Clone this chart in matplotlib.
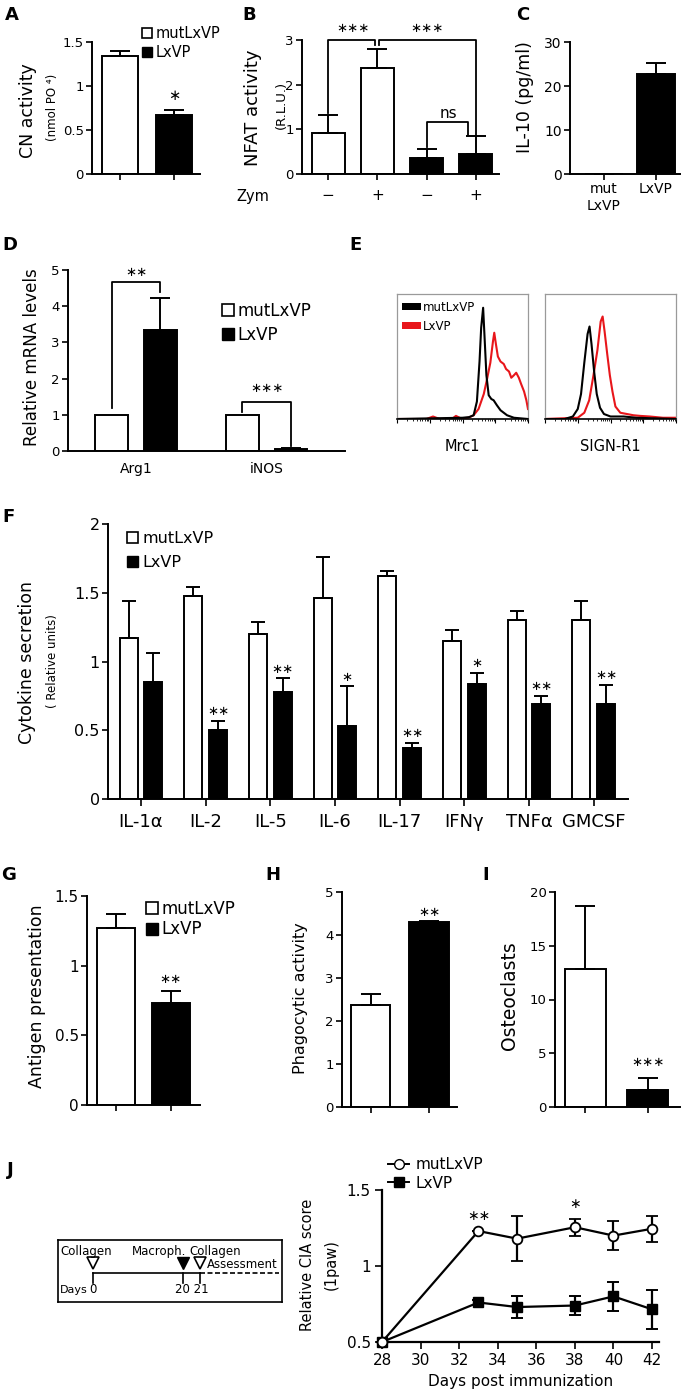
import numpy as np
import matplotlib
matplotlib.use('Agg')
import matplotlib.pyplot as plt
from matplotlib.patches import Patch
from matplotlib.lines import Line2D

plt.rcParams['font.family'] = ['DejaVu Sans']

# ---- data ----
groups = ['mutLxVP', 'LxVP']

a_mean = [1.34, 0.67]
a_sem = [0.06, 0.06]

b_zym = ['\u2212', '+', '\u2212', '+']
b_mean = [0.92, 2.37, 0.35, 0.45]
b_sem = [0.40, 0.43, 0.20, 0.41]
b_colors = ['white', 'white', 'black', 'black']

c_mean = [0.1, 22.8]
c_sem = [0.0, 2.4]

d_genes = ['Arg1', 'iNOS']
d_mut = [1.0, 1.0]
d_lx = [3.35, 0.06]
d_lx_sem = [0.87, 0.02]

# flow histograms: x in log decades, y relative to panel height
e_mrc1_mut_x = [0, 1.0, 2.0, 2.2, 2.34, 2.44, 2.52, 2.57, 2.63, 2.68, 2.73, 2.8, 2.88, 2.95, 3.05, 3.16, 3.36, 3.57, 4.0]
e_mrc1_mut_y = [0, 0.005, 0.01, 0.015, 0.03, 0.14, 0.46, 0.73, 0.89, 0.62, 0.35, 0.19, 0.16, 0.15, 0.11, 0.07, 0.03, 0.01, 0.0]
e_mrc1_lx_x = [0, 0.9, 1.1, 1.3, 1.7, 1.8, 1.95, 2.18, 2.34, 2.49, 2.65, 2.75, 2.85, 2.93, 2.97, 3.02, 3.08, 3.16, 3.26,
               3.33, 3.42, 3.49, 3.57, 3.64, 3.72, 3.79, 3.88, 3.95, 4.0]
e_mrc1_lx_y = [0, 0.0, 0.02, 0.0, 0.005, 0.025, 0.005, 0.01, 0.03, 0.08, 0.2, 0.32, 0.45, 0.62, 0.69, 0.6, 0.5, 0.46, 0.44,
               0.4, 0.38, 0.33, 0.35, 0.37, 0.33, 0.28, 0.22, 0.15, 0.08]
e_sign_mut_x = [0, 0.6, 0.85, 1.0, 1.1, 1.2, 1.3, 1.36, 1.42, 1.5, 1.58, 1.68, 1.8, 2.0, 2.4, 2.8, 4.0]
e_sign_mut_y = [0, 0.0, 0.02, 0.08, 0.2, 0.45, 0.68, 0.74, 0.6, 0.38, 0.2, 0.09, 0.04, 0.02, 0.02, 0.01, 0.0]
e_sign_lx_x = [0, 1.0, 1.2, 1.35, 1.48, 1.6, 1.7, 1.76, 1.82, 1.9, 1.98, 2.06, 2.15, 2.3, 2.5, 2.7, 2.9, 3.2, 3.6, 4.0]
e_sign_lx_y = [0, 0.01, 0.05, 0.15, 0.35, 0.55, 0.78, 0.82, 0.7, 0.52, 0.35, 0.22, 0.1, 0.05, 0.04, 0.03, 0.025, 0.02, 0.01, 0.01]

f_cyto = ['IL-1\u03b1', 'IL-2', 'IL-5', 'IL-6', 'IL-17', 'IFN\u03b3', 'TNF\u03b1', 'GMCSF']
f_mut = [1.17, 1.48, 1.20, 1.46, 1.62, 1.15, 1.30, 1.30]
f_mut_sem = [0.27, 0.06, 0.09, 0.30, 0.04, 0.08, 0.07, 0.14]
f_lx = [0.85, 0.50, 0.78, 0.53, 0.37, 0.84, 0.69, 0.69]
f_lx_sem = [0.21, 0.07, 0.10, 0.29, 0.04, 0.08, 0.06, 0.14]
f_stars = ['', '**', '**', '*', '**', '*', '**', '**']

g_mean = [1.27, 0.73]
g_sem = [0.10, 0.09]
h_mean = [2.37, 4.30]
h_sem = [0.26, 0.02]
i_mean = [12.8, 1.6]
i_sem = [5.9, 1.1]

j_days = [28, 33, 35, 38, 40, 42]
j_mut = [0.5, 1.23, 1.18, 1.255, 1.20, 1.245]
j_mut_sem = [0, 0.0, 0.15, 0.055, 0.095, 0.085]
j_lx = [0.5, 0.76, 0.73, 0.74, 0.80, 0.715]
j_lx_sem = [0, 0.015, 0.07, 0.06, 0.095, 0.13]
j_stars = ['', '**', '', '*', '', '']

# ---- layout helpers (pixel coordinates of the 681x1395 canvas) ----
W, H = 681, 1395
fig = plt.figure(figsize=(W / 100, H / 100), dpi=100)


def px_axes(x0, y0, x1, y1):
    return fig.add_axes([x0 / W, 1 - y1 / H, (x1 - x0) / W, (y1 - y0) / H])


def fxy(x, y):
    return (x / W, 1 - y / H)


def style(ax, fs):
    for s in ['top', 'right']:
        ax.spines[s].set_visible(False)
    for s in ['left', 'bottom']:
        ax.spines[s].set_linewidth(1.4)
    ax.tick_params(width=1.2, length=4, labelsize=fs, pad=2)


def bars(ax, x, mean, sem, color, width, cap):
    ax.bar(x, mean, width, color=color, edgecolor='black', linewidth=1.4, zorder=2)
    ax.errorbar(x, mean, yerr=[np.zeros(len(mean)), sem], fmt='none', ecolor='black',
                elinewidth=1.4, capsize=cap, capthick=1.4, zorder=3)


def sq_legend(ax, x, y, fs, spacing):
    handles = [Patch(facecolor='white', edgecolor='black', lw=1.2),
               Patch(facecolor='black', edgecolor='black')]
    ax.legend(handles, groups, loc='upper left', bbox_to_anchor=fxy(x, y),
              bbox_transform=fig.transFigure, frameon=False, fontsize=fs,
              handlelength=0.7, handleheight=0.7, handletextpad=0.25,
              labelspacing=spacing, borderpad=0, borderaxespad=0)


def star(ax, x, y, s, fs=9.5):
    # asterisk operator glyph sits centred, like the original stars
    ax.text(x, y, s.replace('*', '\u2217'), ha='center', va='center', fontsize=fs, clip_on=False)


def panel(letter, x, y):
    fig.text(x / W, 1 - y / H, letter, fontsize=13, fontweight='bold', ha='center', va='center')


def ylab(text, x, y, fs):
    fig.text(x / W, 1 - y / H, text, rotation=90, fontsize=fs, ha='center', va='center')


# ---- A ----
panel('A', 12, 15)
axA = px_axes(92, 42, 200, 174)
style(axA, 9.5)
xa = np.arange(2)
bars(axA, xa, a_mean, a_sem, ['white', 'black'], 0.68, 7)
axA.set_xlim(-0.52, 1.48)
axA.set_ylim(0, 1.5)
axA.set_yticks([0, 0.5, 1, 1.5], ['0', '0.5', '1', '1.5'])
axA.set_xticks(xa, ['', ''])
star(axA, 1, 0.89, '*', 10.5)
sq_legend(axA, 142, 26, 10.5, 0.3)
ylab('CN activity', 28, 111, 12.5)
ylab('(nmol PO \u2074)', 53, 107, 8.5)

# ---- B ----
panel('B', 249, 15)
axB = px_axes(302, 40, 499, 174)
style(axB, 9.5)
xb = np.arange(4)
bars(axB, xb, b_mean, b_sem, b_colors, 0.67, 7)
axB.set_xlim(-0.53, 3.47)
axB.set_ylim(0, 3)
axB.set_yticks([0, 1, 2, 3])
axB.set_xticks(xb, b_zym, fontsize=11)
axB.tick_params(axis='x', pad=6)
axB.plot([0, 0, 0.96, 0.96], [1.36, 3.0, 3.0, 2.88], color='black', lw=1.3, clip_on=False)
axB.plot([1.04, 1.04, 3, 3], [2.88, 3.0, 3.0, 0.88], color='black', lw=1.3, clip_on=False)
axB.plot([2, 2, 2.85, 2.85], [0.6, 1.16, 1.16, 0.88], color='black', lw=1.3, clip_on=False)
star(axB, 0.5, 3.26, '***')
star(axB, 2.0, 3.26, '***')
axB.text(2.45, 1.18, 'ns', ha='center', va='bottom', fontsize=11)
fig.text(253 / W, 1 - 197 / H, 'Zym', fontsize=10.5, ha='center', va='center')
ylab('NFAT activity', 253, 108, 13)
ylab('(R.L.U.)', 281, 105, 9.5)

# ---- C ----
panel('C', 523, 15)
axC = px_axes(570, 42, 680, 174)
style(axC, 10)
bars(axC, xa, c_mean, c_sem, ['white', 'black'], 0.73, 7)
axC.set_xlim(-0.65, 1.46)
axC.set_ylim(0, 30)
axC.set_yticks([0, 10, 20, 30])
axC.set_xticks(xa, ['mut\nLxVP', 'LxVP'], fontsize=10)
ylab('IL-10 (pg/ml)', 525, 97, 12.5)

# ---- D ----
panel('D', 10, 245)
axD = px_axes(68, 270, 345, 451)
style(axD, 9.5)
xd = np.arange(2)
off, wd = 0.187, 0.25
axD.bar(xd - off, d_mut, wd, color='white', edgecolor='black', linewidth=1.4)
bars(axD, xd + off, d_lx, d_lx_sem, 'black', wd, 7)
axD.set_xlim(-0.52, 1.6)
axD.set_ylim(0, 5)
axD.set_yticks([0, 1, 2, 3, 4, 5])
axD.set_xticks(xd, d_genes, fontsize=10)
axD.tick_params(axis='x', length=0, pad=8)
axD.plot([-off, -off, off, off], [1.2, 4.66, 4.66, 4.4], color='black', lw=1.3)
star(axD, 0, 4.92, '**')
axD.plot([1 - off, 1 - off, 1 + off, 1 + off], [1.08, 1.36, 1.36, 0.15], color='black', lw=1.3)
star(axD, 1, 1.74, '***')
sq_legend(axD, 222, 302, 12, 0.35)
ylab('Relative mRNA levels', 32, 357, 12)

# ---- E ----
panel('E', 355, 245)
minor = np.concatenate([d + np.log10(np.arange(2, 10)) for d in range(4)])
hists = [(397, e_mrc1_mut_x, e_mrc1_mut_y, e_mrc1_lx_x, e_mrc1_lx_y, 'Mrc1'),
         (545, e_sign_mut_x, e_sign_mut_y, e_sign_lx_x, e_sign_lx_y, 'SIGN-R1')]
for k, (x0, mx, my, lx, ly, name) in enumerate(hists):
    ax = px_axes(x0, 294, x0 + 131, 419)
    ax.plot(lx, ly, color='#e8161b', lw=1.5)
    ax.plot(mx, my, color='black', lw=1.5)
    ax.set_xlim(0, 4)
    ax.set_ylim(0, 1)
    for s in ['top', 'left', 'right']:
        ax.spines[s].set_color('#9a9a9a')
        ax.spines[s].set_linewidth(0.9)
    ax.spines['bottom'].set_linewidth(1.2)
    ax.set_yticks([])
    ax.set_xticks([0, 1, 2, 3, 4], [''] * 5)
    ax.set_xticks(minor, minor=True)
    ax.tick_params(axis='x', which='major', length=3, width=0.8)
    ax.tick_params(axis='x', which='minor', length=1.5, width=0.6)
    ax.set_xlabel(name, fontsize=10.5, labelpad=8)
    if k == 0:
        hs = [Patch(facecolor='black'), Patch(facecolor='#e8161b')]
        ax.legend(hs, groups, loc='upper left', bbox_to_anchor=fxy(402, 301),
                  bbox_transform=fig.transFigure, frameon=False, fontsize=8.5,
                  handlelength=1.6, handleheight=0.55, handletextpad=0.2,
                  labelspacing=0.5, borderpad=0, borderaxespad=0)

# ---- F ----
panel('F', 9, 517)
axF = px_axes(108, 524, 628, 799)
style(axF, 11.5)
xf = np.arange(len(f_cyto))
bars(axF, xf - 0.19, f_mut, f_mut_sem, 'white', 0.28, 4.7)
bars(axF, xf + 0.19, f_lx, f_lx_sem, 'black', 0.28, 4.7)
axF.set_xlim(-0.51, 7.53)
axF.set_ylim(0, 2)
axF.set_yticks([0, 0.5, 1, 1.5, 2], ['0', '0.5', '1', '1.5', '2'])
axF.set_xticks(xf, f_cyto, fontsize=13)
axF.tick_params(axis='x', length=5, pad=5)
for i, s in enumerate(f_stars):
    if s:
        star(axF, i + 0.19, f_lx[i] + f_lx_sem[i] + 0.065, s)
sq_legend(axF, 127, 531, 11.5, 0.55)
ylab('Cytokine secretion', 27, 662, 12.5)
ylab('( Relative units)', 53, 661, 8.5)

# ---- G ----
panel('G', 9, 875)
axG = px_axes(87, 896, 200, 1105)
style(axG, 11)
bars(axG, xa, g_mean, g_sem, ['white', 'black'], 0.69, 7)
axG.set_xlim(-0.53, 1.53)
axG.set_ylim(0, 1.5)
axG.set_yticks([0, 0.5, 1, 1.5], ['0', '0.5', '1', '1.5'])
axG.set_xticks(xa, ['', ''])
star(axG, 1, 0.9, '**')
sq_legend(axG, 146, 900, 12, 0.15)
ylab('Antigen presentation', 37, 996, 12.5)

# ---- H ----
panel('H', 273, 875)
axH = px_axes(342, 892, 457, 1107)
style(axH, 9.5)
bars(axH, xa, h_mean, h_sem, ['white', 'black'], 0.675, 7)
axH.set_xlim(-0.49, 1.48)
axH.set_ylim(0, 5)
axH.set_yticks([0, 1, 2, 3, 4, 5])
axH.set_xticks(xa, ['', ''])
star(axH, 1, 4.53, '**')
ylab('Phagocytic activity', 300, 998, 11.5)

# ---- I ----
panel('I', 486, 875)
axI = px_axes(555, 892, 680, 1107)
style(axI, 9.5)
bars(axI, xa, i_mean, i_sem, ['white', 'black'], 0.66, 7)
axI.set_xlim(-0.49, 1.52)
axI.set_ylim(0, 20)
axI.set_yticks([0, 5, 10, 15, 20])
axI.set_xticks(xa, ['', ''])
star(axI, 1, 4.1, '***')
ylab('Osteoclasts', 510, 996, 13.5)

# ---- J schematic ----
panel('J', 10, 1170)
axT = px_axes(58, 1240, 282, 1302)
axT.set_xlim(0, 1)
axT.set_ylim(0, 1)
axT.set_xticks([])
axT.set_yticks([])
for s in axT.spines.values():
    s.set_linewidth(1.2)
tl_y = 0.47
axT.plot([0.156, 0.634], [tl_y, tl_y], color='black', lw=1.2)
axT.plot([0.634, 0.985], [tl_y, tl_y], color='black', lw=1.2, ls=(0, (3, 1.5)))
for xx in [0.156, 0.558, 0.634]:
    axT.plot([xx, xx], [tl_y - 0.16, tl_y], color='black', lw=1.2)
axT.plot([0.156, 0.634], [0.63, 0.63], ls='none', marker='v', ms=8, mfc='white', mec='black', mew=1.2)
axT.plot([0.558], [0.63], ls='none', marker='v', ms=8, mfc='black', mec='black')
tfs = 8.5
axT.text(0.01, 0.82, 'Collagen', fontsize=tfs, va='center')
axT.text(0.33, 0.82, 'Macroph.', fontsize=tfs, va='center')
axT.text(0.588, 0.82, 'Collagen', fontsize=tfs, va='center')
axT.text(0.665, 0.6, 'Assessment', fontsize=tfs, va='center')
axT.text(0.01, 0.2, 'Days', fontsize=8, va='center')
axT.text(0.156, 0.2, '0', fontsize=tfs, va='center', ha='center')
axT.text(0.596, 0.2, '20 21', fontsize=tfs, va='center', ha='center')

# ---- J plot ----
axJ = px_axes(382, 1190, 659, 1342)
style(axJ, 11)
for s in ['left', 'bottom']:
    axJ.spines[s].set_linewidth(1.6)
axJ.errorbar(j_days, j_mut, yerr=j_mut_sem, color='black', lw=1.6, capsize=4, capthick=1.4,
             marker='o', ms=7, mfc='white', mec='black', mew=1.3, clip_on=False, zorder=4)
axJ.errorbar(j_days, j_lx, yerr=j_lx_sem, color='black', lw=1.6, capsize=4, capthick=1.4,
             marker='s', ms=6.5, mfc='black', mec='black', clip_on=False, zorder=3)
axJ.set_xlim(28, 42.36)
axJ.set_ylim(0.5, 1.5)
axJ.set_xticks(np.arange(28, 43, 2))
axJ.set_yticks([0.5, 1, 1.5], ['0.5', '1', '1.5'])
axJ.tick_params(length=5, pad=3)
axJ.set_xlabel('Days post immunization', fontsize=11, labelpad=4)
for d, m, e, s in zip(j_days, j_mut, j_mut_sem, j_stars):
    if s:
        star(axJ, d, m + e + 0.1, s, 10)
jh = [Line2D([], [], color='black', marker='o', mfc='white', mec='black', ms=7, lw=1.4),
      Line2D([], [], color='black', marker='s', mfc='black', ms=6.5, lw=1.4)]
axJ.legend(jh, groups, loc='upper left', bbox_to_anchor=fxy(388, 1157), bbox_transform=fig.transFigure,
           frameon=False, fontsize=11, handlelength=1.4, handletextpad=0.4, labelspacing=0.25,
           borderpad=0, borderaxespad=0)
ylab('Relative CIA score', 308, 1265, 10.5)
ylab('(1paw)', 331, 1265, 10.5)

fig.savefig('out.png', dpi=100)
